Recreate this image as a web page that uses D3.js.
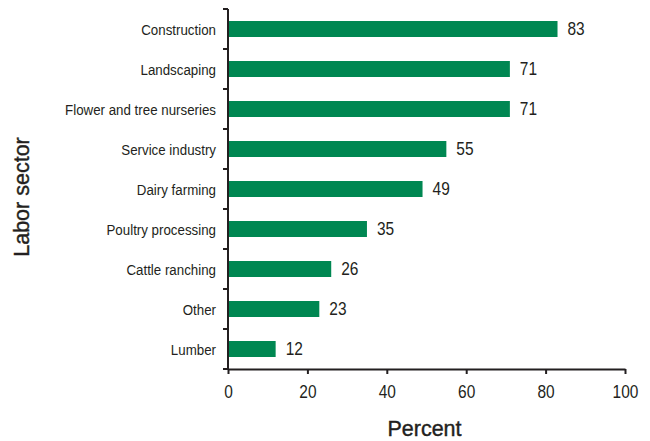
<!DOCTYPE html>
<html>
<head>
<meta charset="utf-8">
<script src="https://cdn.jsdelivr.net/npm/d3@7"></script>
<style>
  html, body { margin: 0; padding: 0; background: #fff; }
  svg text { fill: #231f20; font-family: "Liberation Sans", Arial, sans-serif; }
</style>
</head>
<body>
<svg id="chart" width="650" height="441"></svg>
<script>
// Share of workers by labor sector (percent)
const sectors = ["Construction", "Landscaping", "Flower and tree nurseries", "Service industry",
                 "Dairy farming", "Poultry processing", "Cattle ranching", "Other", "Lumber"];
const percents = [83, 71, 71, 55, 49, 35, 26, 23, 12];
const xTicks = [0, 20, 40, 60, 80, 100];

const svg = d3.select("#chart");
const plotLeft = 228, plotRight = 625, plotTop = 9, plotBottom = 369;
const barColor = "#008752";
const ink = "#231f20";
const squeeze = 0.86; // condensed look for labels and numbers

const x = d3.scaleLinear().domain([0, 100]).range([plotLeft, plotRight]);
const y = d3.scaleBand().domain(sectors).range([plotTop, plotBottom]).paddingInner(0.6).paddingOuter(0.3);
const yBand = d3.scaleBand().domain(sectors).range([plotTop, plotBottom]).padding(0);

// Bars
svg.append("g").selectAll("rect")
  .data(sectors)
  .join("rect")
  .attr("x", x(0))
  .attr("y", d => y(d))
  .attr("width", (d, i) => x(percents[i]) - x(0))
  .attr("height", y.bandwidth())
  .attr("fill", barColor);

// Value labels
svg.append("g").selectAll("text")
  .data(sectors)
  .join("text")
  .attr("transform", (d, i) => `translate(${x(percents[i]) + 10},${y(d) + y.bandwidth() / 2}) scale(${squeeze},1)`)
  .attr("dy", "0.36em")
  .attr("font-size", 18)
  .text((d, i) => percents[i]);

// Category labels
svg.append("g").selectAll("text")
  .data(sectors)
  .join("text")
  .attr("transform", d => `translate(${plotLeft - 12},${yBand(d) + yBand.bandwidth() / 2}) scale(${squeeze},1)`)
  .attr("dy", "0.36em")
  .attr("text-anchor", "end")
  .attr("font-size", 15.5)
  .text(d => d);

// Y axis line with ticks at band boundaries
const boundaries = sectors.map(d => yBand(d)).concat([plotBottom]);
const yAxis = svg.append("g").attr("stroke", ink).attr("stroke-width", 2);
yAxis.append("line").attr("x1", plotLeft).attr("x2", plotLeft).attr("y1", plotTop).attr("y2", plotBottom);
yAxis.selectAll("line.tick")
  .data(boundaries)
  .join("line")
  .attr("class", "tick")
  .attr("x1", plotLeft - 5).attr("x2", plotLeft)
  .attr("y1", d => d).attr("y2", d => d);

// X axis
const xAxis = d3.axisBottom(x).tickValues(xTicks).tickSize(5).tickSizeOuter(0);
const gx = svg.append("g").attr("transform", `translate(0,${plotBottom})`).call(xAxis);
gx.attr("font-family", null).attr("font-size", null);
gx.select(".domain").attr("stroke", ink).attr("stroke-width", 2);
gx.selectAll(".tick line").attr("stroke", ink).attr("stroke-width", 2);
gx.selectAll(".tick text")
  .attr("y", null)
  .attr("transform", `translate(0,16) scale(${squeeze},1)`)
  .attr("dy", "0.71em")
  .attr("font-size", 18)
  .attr("fill", ink);

// Axis titles
svg.append("text")
  .attr("x", (plotLeft + plotRight) / 2 - 2)
  .attr("y", 436)
  .attr("text-anchor", "middle")
  .attr("font-size", 21.5)
  .attr("stroke", ink)
  .attr("stroke-width", 0.4)
  .text("Percent");

svg.append("text")
  .attr("transform", `translate(29,${(plotTop + plotBottom) / 2 + 8}) rotate(-90)`)
  .attr("text-anchor", "middle")
  .attr("font-size", 21.5)
  .attr("stroke", ink)
  .attr("stroke-width", 0.4)
  .text("Labor sector");
</script>
</body>
</html>
